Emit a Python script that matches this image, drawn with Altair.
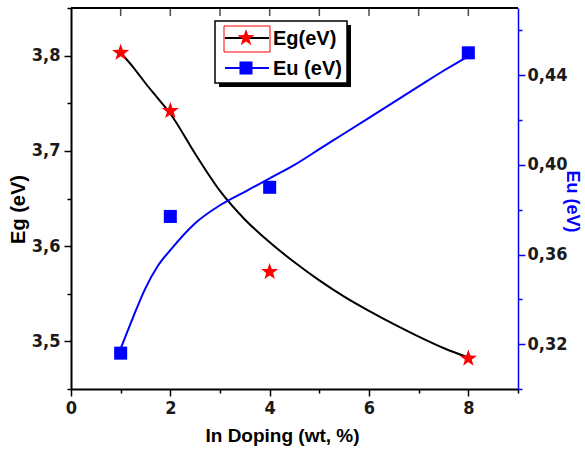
import altair as alt
import pandas as pd

# measured data points
doping = [1, 2, 4, 8]
eg_values = [3.803, 3.742, 3.573, 3.482]
eu_values = [0.316, 0.377, 0.390, 0.450]

# fitted curves
fit_doping = [1, 1.25, 1.5, 1.75, 2, 2.5, 3, 3.5, 4, 4.5, 5, 5.5, 6, 6.5, 7, 7.5, 8]
eg_fit = [3.803, 3.788, 3.771, 3.755, 3.739, 3.697, 3.658, 3.628, 3.604, 3.583, 3.564,
          3.547, 3.532, 3.518, 3.505, 3.493, 3.483]
eu_fit = [0.318, 0.332, 0.345, 0.355, 0.362, 0.374, 0.382, 0.388, 0.394, 0.400, 0.407,
          0.414, 0.421, 0.428, 0.435, 0.442, 0.4485]

x_ticks = [0, 1, 2, 3, 4, 5, 6, 7, 8, 9]
top_ticks = [1, 2, 3, 4, 5, 6, 7, 8]
eg_ticks = [3.45, 3.5, 3.55, 3.6, 3.65, 3.7, 3.75, 3.8, 3.85]
eu_ticks = [0.30, 0.32, 0.34, 0.36, 0.38, 0.40, 0.42, 0.44, 0.46]
legend_labels = ["Eg(eV)", "Eu (eV)"]
x_title = "In Doping (wt, %)"
eg_title = "Eg (eV)"
eu_title = "Eu (eV)"

FONT = "Liberation Sans"
NARROW = "Liberation Sans Narrow, Arial Narrow, DejaVu Sans Condensed, Liberation Sans"
W, H = 447, 381
BLUE = "#0000FF"
RED = "#FF0000"
STAR = ("M0,-1L0.235,-0.324L0.951,-0.309L0.38,0.124L0.588,0.809L0,0.4"
        "L-0.588,0.809L-0.38,0.124L-0.951,-0.309L-0.235,-0.324Z")

pts = pd.DataFrame({"x": doping, "eg": eg_values, "eu": eu_values})
fit = pd.DataFrame({"x": fit_doping, "eg": eg_fit, "eu": eu_fit})
tops = pd.DataFrame({"x": top_ticks})
one = pd.DataFrame({"a": [0]})

xscale = alt.Scale(domain=[0, 9], nice=False, zero=False)
eg_scale = alt.Scale(domain=[3.45, 3.85], nice=False, zero=False)
eu_scale = alt.Scale(domain=[0.30, 0.47], nice=False, zero=False)

common = dict(labelFont=NARROW, labelFontSize=18, labelFontWeight="bold", labelColor="#1a1a1a",
              titleFont=FONT, titleFontWeight="bold", grid=False, labelFlush=False,
              labelOverlap=False, tickWidth=1.5)

x_bottom = alt.Axis(orient="bottom", values=x_ticks, title=x_title, titleColor="black",
                    titleFontSize=19, titleX=211,
                    labelExpr="datum.value % 2 == 0 && datum.value < 9 ? datum.label : ''",
                    tickSize={"condition": {"test": "datum.value % 2 == 0", "value": 7}, "value": 4},
                    domainColor="black", domainWidth=2, tickColor="black",
                    labelPadding=3, titlePadding=9, **common)

eg_axis = alt.Axis(orient="left", values=eg_ticks, title=eg_title, titleColor="black",
                   titleFontSize=20, titleX=-43, titleY=201,
                   labelExpr="abs(datum.value*10 - round(datum.value*10)) < 0.001 ? replace(format(datum.value, '.1f'), '.', ',') : ''",
                   tickSize={"condition": {"test": "abs(datum.value*10 - round(datum.value*10)) < 0.001", "value": 7}, "value": 4},
                   domainColor="black", domainWidth=2, tickColor="black",
                   labelPadding=4, **common)
eu_axis = alt.Axis(orient="right", values=eu_ticks, title=eu_title, titleColor=BLUE,
                   titleFontSize=18, titleX=44, titleY=193,
                   labelExpr="abs(datum.value*25 - round(datum.value*25)) < 0.001 ? replace(format(datum.value, '.2f'), '.', ',') : ''",
                   tickSize={"condition": {"test": "abs(datum.value*25 - round(datum.value*25)) < 0.001", "value": 7}, "value": 4},
                   domainColor=BLUE, domainWidth=1.5, tickColor=BLUE,
                   labelPadding=2, **common)

eg_line = alt.Chart(fit).mark_line(color="black", strokeWidth=2, interpolate="monotone").encode(
    x=alt.X("x:Q", scale=xscale, axis=x_bottom),
    y=alt.Y("eg:Q", scale=eg_scale, axis=eg_axis))
eg_pts = alt.Chart(pts).mark_point(shape=STAR, filled=True, color=RED, size=320, opacity=1,
                                   strokeWidth=0).encode(
    x=alt.X("x:Q", scale=xscale),
    y=alt.Y("eg:Q", scale=eg_scale))

eu_line = alt.Chart(fit).mark_line(color=BLUE, strokeWidth=2, interpolate="monotone").encode(
    x=alt.X("x:Q", scale=xscale),
    y=alt.Y("eu:Q", scale=eu_scale, axis=eu_axis))
eu_pts = alt.Chart(pts).mark_point(shape="square", filled=True, color=BLUE, size=170, opacity=1).encode(
    x=alt.X("x:Q", scale=xscale),
    y=alt.Y("eu:Q", scale=eu_scale))

top_border = alt.Chart(one).mark_rule(color="black", strokeWidth=2).encode(
    x=alt.value(0), x2=alt.value(W), y=alt.value(0))
top_tick_marks = alt.Chart(tops).mark_tick(color="black", thickness=1.5, size=8).encode(
    x=alt.X("x:Q", scale=xscale), y=alt.value(4))

leg_shadow = alt.Chart(one).mark_rect(color="black").encode(
    x=alt.value(148), x2=alt.value(280), y=alt.value(17), y2=alt.value(79))
leg_box = alt.Chart(one).mark_rect(fill="white", stroke="black", strokeWidth=1.5).encode(
    x=alt.value(144), x2=alt.value(276), y=alt.value(13), y2=alt.value(75))
leg_redbox = alt.Chart(one).mark_rect(fillOpacity=0, stroke=RED, strokeWidth=1).encode(
    x=alt.value(153), x2=alt.value(199), y=alt.value(18), y2=alt.value(44))
leg_line1 = alt.Chart(one).mark_rule(color="black", strokeWidth=2).encode(
    x=alt.value(154), x2=alt.value(198), y=alt.value(30))
leg_star = alt.Chart(one).mark_point(shape=STAR, filled=True, color=RED, size=320, opacity=1,
                                     strokeWidth=0).encode(
    x=alt.value(175), y=alt.value(30))
leg_line2 = alt.Chart(one).mark_rule(color=BLUE, strokeWidth=2).encode(
    x=alt.value(154), x2=alt.value(198), y=alt.value(60))
leg_sq = alt.Chart(one).mark_point(shape="square", filled=True, color=BLUE, size=170, opacity=1).encode(
    x=alt.value(175), y=alt.value(60))
leg_t1 = alt.Chart(one).mark_text(text=legend_labels[0], align="left", baseline="middle", font=FONT,
                                  fontSize=20, fontWeight="bold", color="black").encode(
    x=alt.value(202), y=alt.value(31))
leg_t2 = alt.Chart(one).mark_text(text=legend_labels[1], align="left", baseline="middle", font=FONT,
                                  fontSize=20, fontWeight="bold", color="black").encode(
    x=alt.value(202), y=alt.value(61))

left = alt.layer(eg_line, eg_pts)
right = alt.layer(eu_line, eu_pts, top_border, top_tick_marks, leg_shadow, leg_box, leg_redbox,
                  leg_line1, leg_star, leg_line2, leg_sq, leg_t1, leg_t2)

chart = alt.layer(left, right).resolve_scale(y="independent").properties(
    width=W, height=H,
    autosize=alt.AutoSizeParams(type="none"),
    padding={"left": 71, "top": 8, "right": 67, "bottom": 61},
    background="white",
).configure_view(stroke=None)

chart.save("out.html", embed_options={"renderer": "svg", "actions": False})
